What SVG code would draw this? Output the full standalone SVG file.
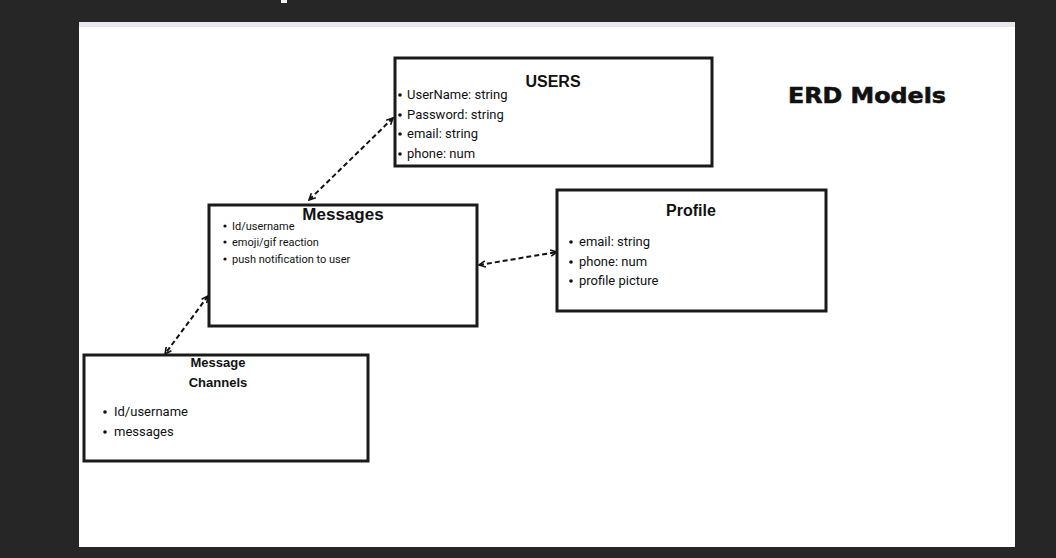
<svg xmlns="http://www.w3.org/2000/svg" width="1056" height="558" viewBox="0 0 1056 558">
<defs>
<style>
.box{fill:#fff;stroke:#1a1a1a;stroke-width:3}
.t{font-family:"Liberation Sans",Arial,sans-serif;font-weight:bold;fill:#111;text-anchor:middle}
.i{font-family:Roboto,"Liberation Sans",sans-serif;fill:#111}
.c{fill:none;stroke:#111;stroke-width:2;stroke-dasharray:5,3}
</style>
<marker id="ah" viewBox="0 0 10 10" refX="9" refY="5" markerWidth="8" markerHeight="8" orient="auto-start-reverse" markerUnits="userSpaceOnUse">
<path d="M1,1 L9,5 L1,9" fill="none" stroke="#111" stroke-width="2"/>
</marker>
</defs>
<rect x="0" y="0" width="1056" height="558" fill="#262626"/>
<rect x="281" y="0" width="6" height="3" fill="#f2f2f2"/>
<rect x="79" y="22" width="936" height="525" fill="#fff"/>
<rect x="79" y="22" width="936" height="5" fill="#e8e8ec"/>
<text x="788" y="103" textLength="158" lengthAdjust="spacingAndGlyphs" style="font-family:'DejaVu Sans','Liberation Sans',sans-serif;font-weight:bold;font-size:22px;fill:#111;stroke:#111;stroke-width:0.6">ERD Models</text>
<g id="connectors">
<line class="c" x1="393" y1="118" x2="309" y2="200" marker-start="url(#ah)" marker-end="url(#ah)"/>
<line class="c" x1="479" y1="265" x2="557" y2="252" marker-start="url(#ah)" marker-end="url(#ah)"/>
<line class="c" x1="208" y1="296" x2="165" y2="354" marker-start="url(#ah)" marker-end="url(#ah)"/>
</g>
<g id="users">
<rect class="box" x="395" y="58" width="317" height="108"/>
<text x="553" y="87" class="t" style="font-size:16px">USERS</text>
<g class="i" font-size="13">
<circle cx="400" cy="95" r="1.8"/><text x="407" y="99">UserName: string</text>
<circle cx="400" cy="115" r="1.8"/><text x="407" y="119">Password: string</text>
<circle cx="400" cy="134" r="1.8"/><text x="407" y="138">email: string</text>
<circle cx="400" cy="154" r="1.8"/><text x="407" y="158">phone: num</text>
</g>
</g>
<g id="messages">
<rect class="box" x="209" y="205" width="268" height="121"/>
<text x="343" y="220" class="t" style="font-size:17px">Messages</text>
<g class="i" font-size="11">
<circle cx="225" cy="226" r="1.6"/><text x="232" y="230">Id/username</text>
<circle cx="225" cy="242" r="1.6"/><text x="232" y="246">emoji/gif reaction</text>
<circle cx="225" cy="259" r="1.6"/><text x="232" y="263">push notification to user</text>
</g>
</g>
<g id="profile">
<rect class="box" x="557" y="190" width="269" height="121"/>
<text x="691" y="216" class="t" style="font-size:16px">Profile</text>
<g class="i" font-size="13">
<circle cx="571" cy="242" r="1.8"/><text x="579" y="246">email: string</text>
<circle cx="571" cy="262" r="1.8"/><text x="579" y="266">phone: num</text>
<circle cx="571" cy="281" r="1.8"/><text x="579" y="285">profile picture</text>
</g>
</g>
<g id="message-channels">
<rect class="box" x="84" y="355" width="284" height="106"/>
<text x="218" y="367" class="t" style="font-size:13px">Message</text>
<text x="218" y="387" class="t" style="font-size:13px">Channels</text>
<g class="i" font-size="13">
<circle cx="105" cy="412" r="1.8"/><text x="114" y="416">Id/username</text>
<circle cx="105" cy="432" r="1.8"/><text x="114" y="436">messages</text>
</g>
</g>
</svg>
